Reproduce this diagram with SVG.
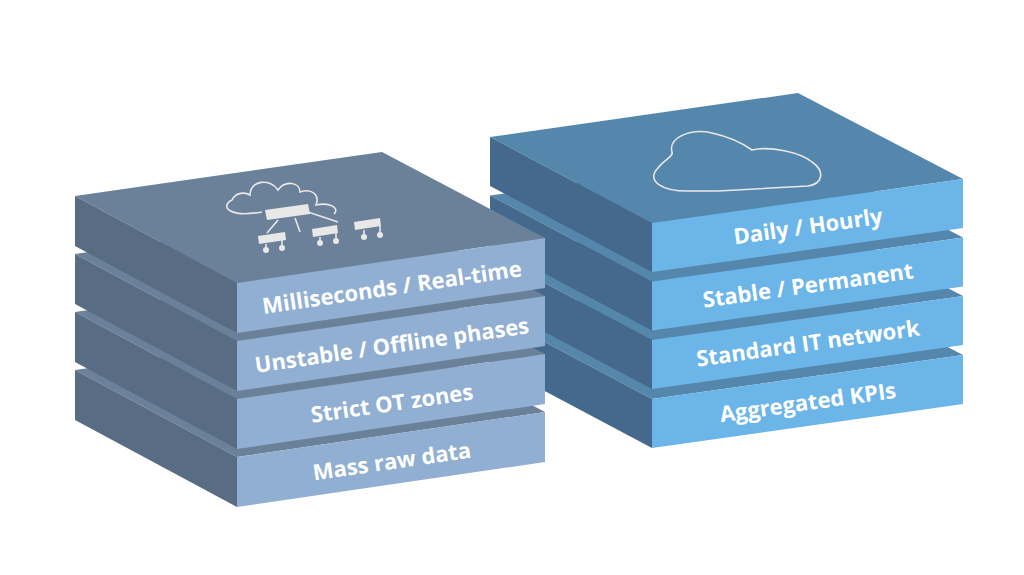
<svg xmlns="http://www.w3.org/2000/svg" width="1024" height="575" viewBox="0 0 1024 575">
<style>
.lt{fill:#6b8099}.ll{fill:#586c84}.lf{fill:#90afd2}
.rt{fill:#5587ad}.rl{fill:#44698c}.rf{fill:#6cb5e9}
.t{font-family:"Open Sans","Liberation Sans",sans-serif;font-weight:700;font-size:22px;fill:#fff;text-anchor:middle}
.ic{fill:none;stroke:#e8e8e8;stroke-width:1.6}
.icf{fill:#e8e8e8}
</style>
<rect width="1024" height="575" fill="#fff"/>
<defs>
<g id="ls">
<polygon class="lt" points="75,196 382,152 545,238 237,283"/>
<polygon class="ll" points="75,196 237,283 237,333 75,246"/>
<polygon class="lf" points="237,283 545,238 545,288 237,333"/>
</g>
<g id="rs">
<polygon class="rt" points="490,137 798,93 963,179 652,223"/>
<polygon class="rl" points="490,137 652,223 652,272 490,186"/>
<polygon class="rf" points="652,223 963,179 963,228 652,272"/>
</g>
</defs>
<g id="right-stack">
<use href="#rs" y="176"/>
<use href="#rs" y="117"/>
<use href="#rs" y="58.5"/>
<use href="#rs"/>
<path class="ic" d="M718,191 L692,191 C660,192 646,180 658,168 C664,160 674,156 672,152 C668,138 690,128 712,133 C730,137 745,145 752,150 C770,146 800,152 812,162 C826,172 822,184 808,186 Z"/>
<text class="t" transform="translate(809,234) rotate(-8)">Daily / Hourly</text>
<text class="t" transform="translate(809,293) rotate(-8)">Stable / Permanent</text>
<text class="t" transform="translate(809,351) rotate(-8)">Standard IT network</text>
<text class="t" transform="translate(809,410) rotate(-8)">Aggregated KPIs</text>
</g>
<g id="left-stack">
<use href="#ls" y="174"/>
<use href="#ls" y="116"/>
<use href="#ls" y="58"/>
<use href="#ls"/>
<g id="icon">
<path class="ic" d="M262,212 C228,218 220,206 232,200 C236,192 245,192 250,195 C250,180 270,178 278,190 C285,180 300,182 300,192 C312,188 320,195 316,205 C330,202 340,208 334,214"/>
<polygon class="icf" points="265,210 308,204 310,214 267,220"/>
<path class="ic" d="M278,220 L267,233 M295,218 L300,232 M308,212 L338,222"/>
<polygon class="icf" points="258,236 285,232 286,240 259,244"/>
<polygon class="icf" points="312,229 337,225 338,233 313,237"/>
<polygon class="icf" points="354,222 380,218 381,226 355,230"/>
<g class="icf">
<circle cx="266" cy="250" r="3"/><circle cx="282" cy="248" r="3"/>
<circle cx="320" cy="243" r="3"/><circle cx="336" cy="241" r="3"/>
<circle cx="364" cy="237" r="3"/><circle cx="380" cy="235" r="3"/>
</g>
<path class="ic" d="M266,244 V250 M282,240 V248 M320,237 V243 M336,233 V241 M364,230 V237 M380,226 V235"/>
</g>
<text class="t" transform="translate(393,295) rotate(-8.3)">Milliseconds / Real-time</text>
<text class="t" transform="translate(393,353) rotate(-8.3)">Unstable / Offline phases</text>
<text class="t" transform="translate(393,411) rotate(-8.3)">Strict OT zones</text>
<text class="t" transform="translate(393,469) rotate(-8.3)">Mass raw data</text>
</g>
</svg>
